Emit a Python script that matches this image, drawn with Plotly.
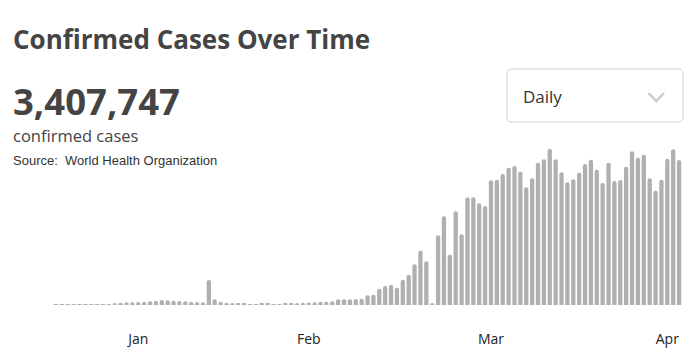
import pandas as pd
import plotly.graph_objects as go

W, H = 697, 357

start_date = "2020-01-18"
daily_cases = [
    100, 120, 150, 180, 220, 300, 350, 420, 500, 600,
    1200, 1400, 1600, 1650, 1800, 2000, 2200, 2400, 3000, 2800,
    2600, 2400, 2200, 2000, 1800, 1600, 15000,
    3500, 2000, 1400, 1200, 1000, 1000,
    600, 500, 800, 700, 550, 600,
    1000, 1100, 1200, 1300, 1500, 1700, 1900, 2000, 2300,
    3400, 3400, 3400, 3600,
    3800, 5800, 6200, 9800, 11400, 12200, 10400, 15200, 18200, 24400,
    32600, 26200, 1200, 41800, 53200, 30200, 56200, 42400, 64600, 64600,
    61000, 59400, 74800, 75200, 78600, 82400, 83400, 80000, 70600, 76000,
    85400, 87400, 93800, 87400, 79600, 73600, 75400, 79400, 84600, 87200,
    81200, 73200, 85400, 74400, 75000, 83000, 92200, 88400, 90200, 76000,
    68600, 75200, 87800, 93400, 87000,
]
dates = pd.date_range(start_date, periods=len(daily_cases), freq="D")

tick_dates = ["2020-02-01", "2020-03-01", "2020-04-01", "2020-05-01"]
tick_labels = ["Jan", "Feb", "Mar", "Apr"]

title_text = "Confirmed Cases Over Time"
total_text = "3,407,747"
subtitle_text = "confirmed cases"
source_text = "Source:  World Health Organization"
dropdown_text = "Daily"

BAR = "#b0b0b0"
DARK = "#444444"


def px(x):
    return x / W


def py(y):
    return 1 - y / H


pitch = 5.878  # pixels per day
r0 = pd.Timestamp(start_date) - pd.Timedelta(days=56 / pitch)
r1 = r0 + pd.Timedelta(days=W / pitch)

fig = go.Figure(
    go.Bar(x=dates, y=daily_cases, marker=dict(color=BAR, line=dict(width=0)),
           hoverinfo="skip")
)

fig.update_layout(
    width=W, height=H,
    margin=dict(l=0, r=0, t=0, b=0),
    paper_bgcolor="white", plot_bgcolor="white",
    showlegend=False,
    bargap=0.27,
    barcornerradius=2,
    xaxis=dict(
        type="date", range=[r0, r1], domain=[0, 1],
        anchor="free", position=py(329),
        tickvals=tick_dates, ticktext=tick_labels,
        showgrid=False, zeroline=False, showline=False, ticks="",
        tickfont=dict(family="Open Sans", size=14, color="#222222"),
        automargin=False,
    ),
    yaxis=dict(
        domain=[py(305), py(140)], range=[0, 99000],
        showgrid=False, zeroline=False, showline=False,
        showticklabels=False, ticks="", automargin=False,
    ),
)


def note(text, x, y, size, color, family, bold=False):
    fig.add_annotation(
        text=f"<b>{text}</b>" if bold else text,
        x=px(x), y=py(y), xref="paper", yref="paper",
        xanchor="left", yanchor="middle", showarrow=False,
        font=dict(family=family, size=size, color=color),
    )


note(title_text, 11, 39, 26, DARK, "Open Sans", bold=True)
note(total_text, 11, 101, 36.5, DARK, "Open Sans", bold=True)
note(subtitle_text, 11, 135, 16.5, DARK, "Open Sans")
note(source_text, 11, 160, 13, "#333333", "Liberation Sans")
note(dropdown_text, 521, 97, 17, "#333333", "Open Sans")

# dropdown box with rounded corners
x0, x1, y0, y1, r = 507, 683, 69, 122, 5
path = (
    f"M {px(x0 + r)} {py(y0)} L {px(x1 - r)} {py(y0)} "
    f"Q {px(x1)} {py(y0)} {px(x1)} {py(y0 + r)} "
    f"L {px(x1)} {py(y1 - r)} Q {px(x1)} {py(y1)} {px(x1 - r)} {py(y1)} "
    f"L {px(x0 + r)} {py(y1)} Q {px(x0)} {py(y1)} {px(x0)} {py(y1 - r)} "
    f"L {px(x0)} {py(y0 + r)} Q {px(x0)} {py(y0)} {px(x0 + r)} {py(y0)} Z"
)
fig.add_shape(type="path", path=path, xref="paper", yref="paper",
              line=dict(color="#cfcfcf", width=1), fillcolor="white")
chev = f"M {px(648.5)} {py(93)} L {px(656.3)} {py(101)} L {px(664)} {py(93)}"
fig.add_shape(type="path", path=chev, xref="paper", yref="paper",
              line=dict(color="#cccccc", width=2.5))

fig.write_html("out.html", post_script="document.body.style.margin='0';",
               config={"displayModeBar": False})
